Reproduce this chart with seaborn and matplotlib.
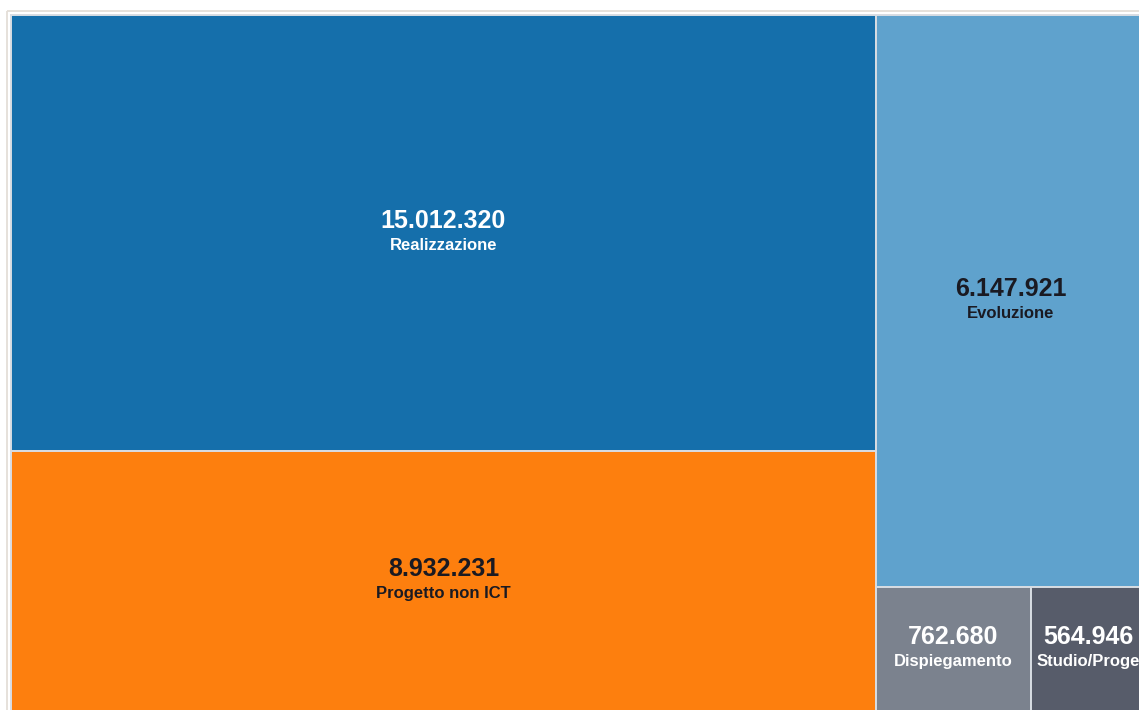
import matplotlib
matplotlib.use("Agg")
import matplotlib.pyplot as plt
from matplotlib.patches import Rectangle
import seaborn as sns

# ---- data ----
categories = ["Realizzazione", "Progetto non ICT", "Evoluzione", "Dispiegamento", "Studio/Progettazione"]
values = [15012320, 8932231, 6147921, 762680, 564946]
colors = ["#156fab", "#fd7f0e", "#5fa2cd", "#7b828e", "#575c6a"]
text_colors = ["#ffffff", "#1a1a22", "#1a1a22", "#ffffff", "#ffffff"]

sns.set_theme(style="white")
plt.rcParams["font.family"] = ["Liberation Sans", "DejaVu Sans"]


def squarify(vals, x0, y0, x1, y1, ratio=(1 + 5 ** 0.5) / 2):
    """d3-style squarified treemap layout (y grows downward)."""
    rects = []
    nodes = list(vals)
    n = len(nodes)
    value = float(sum(nodes))
    i0 = i1 = 0
    while i0 < n:
        dx, dy = x1 - x0, y1 - y0
        sumv = nodes[i1]
        i1 += 1
        minv = maxv = sumv
        alpha = max(dy / dx, dx / dy) / (value * ratio)
        beta = sumv * sumv * alpha
        minr = max(maxv / beta, beta / minv)
        while i1 < n:
            nv = nodes[i1]
            s = sumv + nv
            mn, mx = min(minv, nv), max(maxv, nv)
            beta = s * s * alpha
            nr = max(mx / beta, beta / mn)
            if nr > minr:
                break
            sumv, minv, maxv, minr = s, mn, mx, nr
            i1 += 1
        row = nodes[i0:i1]
        if dx < dy:
            h = dy * sumv / value
            xx = x0
            for v in row:
                w = dx * v / sumv
                rects.append((xx, y0, w, h))
                xx += w
            y0 += h
        else:
            w = dx * sumv / value
            yy = y0
            for v in row:
                h = dy * v / sumv
                rects.append((x0, yy, w, h))
                yy += h
            x0 += w
        value -= sumv
        i0 = i1
    return rects


fig = plt.figure(figsize=(11.39, 7.10), dpi=100)
ax = fig.add_axes([0, 0, 1, 1])
ax.set_xlim(0, 1139)
ax.set_ylim(710, 0)
ax.axis("off")

# outer frame
ax.add_patch(Rectangle((7, 11), 1300, 900, fill=False, edgecolor="#e4ded8", lw=1.3))

fig.canvas.draw()
renderer = fig.canvas.get_renderer()

rects = squarify(values, 11, 15, 1146, 711)
for (x, y, w, h), cat, v, c, tc in zip(rects, categories, values, colors, text_colors):
    tile = Rectangle((x, y), w, h, facecolor=c, edgecolor="#d8dde3", lw=1.4)
    ax.add_patch(tile)
    cx, cy = x + w / 2, y + h / 2
    lab = f"{v:,}".replace(",", ".")
    ax.text(cx, cy - 12, lab, ha="center", va="center", fontsize=18,
            fontweight="bold", color=tc)
    t = ax.text(cx, cy + 12, cat, ha="center", va="center", fontsize=12,
                fontweight="bold", color=tc)
    bb = t.get_window_extent(renderer=renderer)
    if bb.width > w - 6:
        t.set_ha("left")
        t.set_x(x + 5)
        t.set_clip_path(tile)

fig.savefig("out.png", dpi=100)
